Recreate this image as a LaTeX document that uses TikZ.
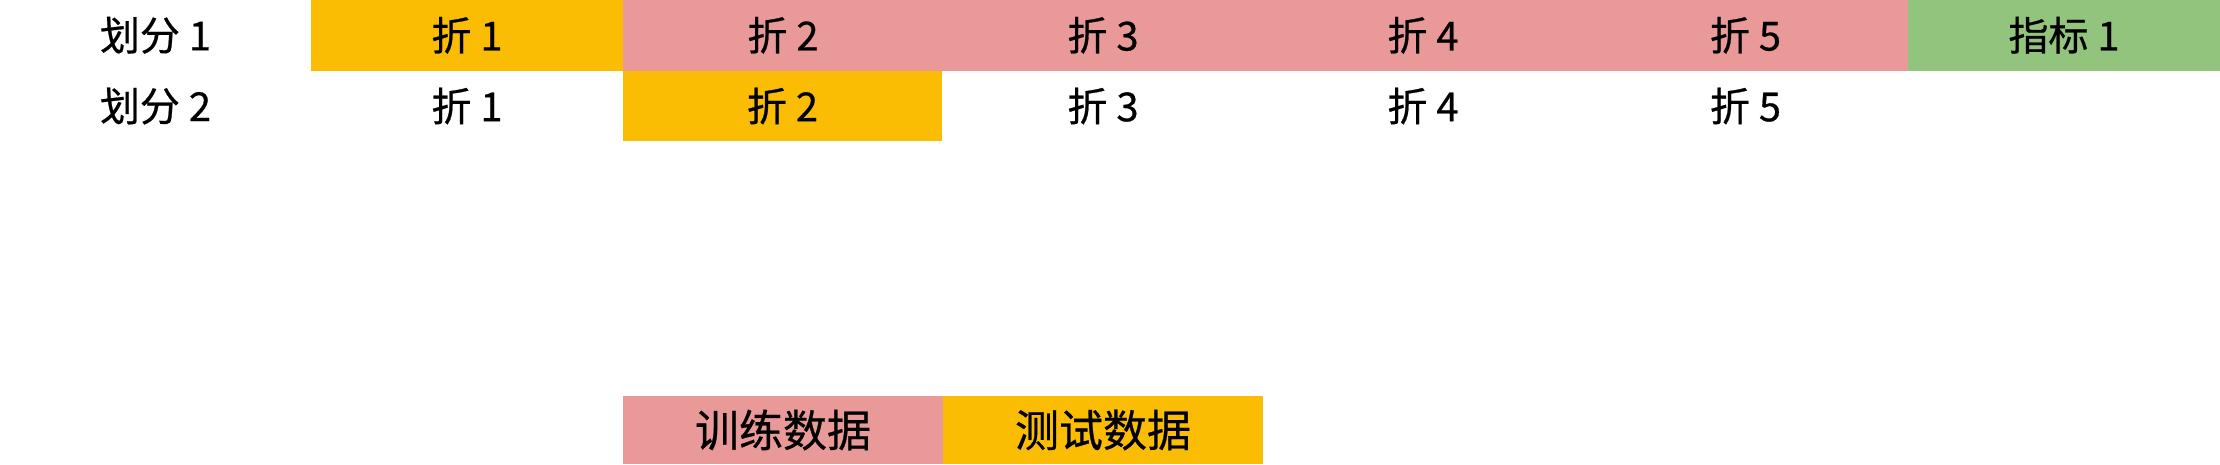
\documentclass[tikz,border=0pt]{standalone}
\usepackage{fontspec}
\setmainfont{Noto Sans CJK SC}
\newfontfamily\medfont{Noto Sans CJK SC}[FakeBold=0.6]
\definecolor{foldyellow}{HTML}{FBBC04}
\definecolor{foldpink}{HTML}{EA9999}
\definecolor{foldgreen}{HTML}{93C47D}
\begin{document}
\begin{tikzpicture}[x=1pt,y=-1pt,
  cell/.style={minimum height=70.5pt, inner sep=0pt, outer sep=0pt,
    font=\medfont\fontsize{40}{46}\selectfont, anchor=center, text=black},
  wide/.style={minimum width=320.5pt},
  lab/.style={cell, minimum width=311pt},
  testc/.style={fill=foldyellow},
  trainc/.style={fill=foldpink},
  metricc/.style={fill=foldgreen},
  legc/.style={cell, minimum height=68pt, font=\medfont\fontsize{44}{50}\selectfont}]
\useasboundingbox (0,0) rectangle (2220,464);
% row 1
\node[lab] (r1l) at (155.5,35.25) {划分 1};
\node[cell, testc, minimum width=312.5pt] (r1f1) at (467,35.25) {折 1};
\node[cell, trainc, wide] (r1f2) at (783,35.25) {折 2};
\node[cell, trainc, wide] (r1f3) at (1103,35.25) {折 3};
\node[cell, trainc, wide] (r1f4) at (1423,35.25) {折 4};
\node[cell, trainc, minimum width=326pt] (r1f5) at (1745.5,35.25) {折 5};
\node[cell, metricc, minimum width=312pt] (r1m) at (2064,35.25) {指标 1};
% row 2
\node[lab] (r2l) at (155.5,106) {划分 2};
\node[cell, minimum width=312pt] (r2f1) at (467,106) {折 1};
\node[cell, testc, minimum width=319pt] (r2f2) at (782.5,106) {折 2};
\node[cell, wide] (r2f3) at (1103,106) {折 3};
\node[cell, wide] (r2f4) at (1423,106) {折 4};
\node[cell, minimum width=325pt] (r2f5) at (1745.5,106) {折 5};
% legend
\node[legc, trainc, minimum width=321pt] (ltrain) at (783,430) {训练数据};
\node[legc, testc, minimum width=320pt] (ltest) at (1103,430) {测试数据};
\end{tikzpicture}
\end{document}
